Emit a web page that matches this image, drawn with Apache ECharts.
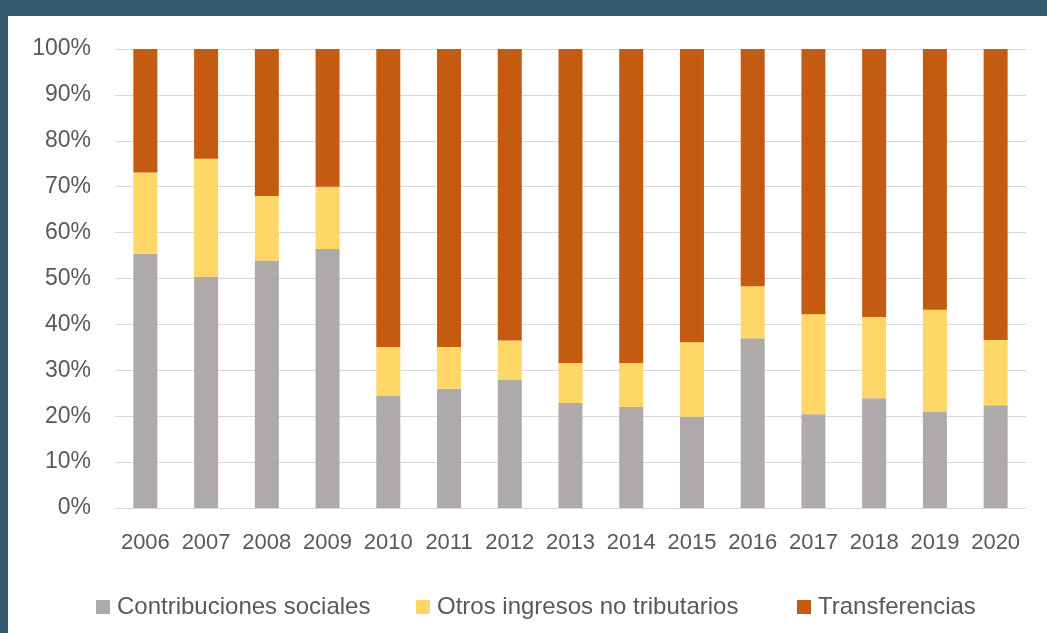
<!DOCTYPE html>
<html>
<head>
<meta charset="utf-8">
<script src="https://cdn.jsdelivr.net/npm/echarts@6/dist/echarts.min.js"></script>
<style>
  html, body { margin: 0; padding: 0; }
  body { width: 1047px; height: 633px; background: #35596d; position: relative; overflow: hidden; }
  #main { position: absolute; left: 8px; top: 16px; width: 1039px; height: 617px; background: #fff; }
</style>
</head>
<body>
<div id="main"></div>
<script>
// años
var years = ["2006", "2007", "2008", "2009", "2010", "2011", "2012", "2013",
             "2014", "2015", "2016", "2017", "2018", "2019", "2020"];
// participación (%) de cada fuente
var contribuciones = [55.4, 50.3, 53.9, 56.4, 24.5, 26.0, 27.9, 22.9, 22.0, 19.9, 37.0, 20.4, 23.9, 20.9, 22.4];
var otrosIngresos  = [17.7, 25.8, 14.1, 13.6, 10.6, 9.1, 8.6, 8.7, 9.6, 16.2, 11.3, 21.8, 17.7, 22.3, 14.2];
var transferencias = [26.9, 23.9, 32.0, 30.0, 64.9, 64.9, 63.5, 68.4, 68.4, 63.9, 51.7, 57.8, 58.4, 56.8, 63.4];
var seriesNames = ["Contribuciones sociales", "Otros ingresos no tributarios", "Transferencias"];

var textColor = "#595959";
var font = "Liberation Sans";

var chart = echarts.init(document.getElementById("main"));

function bar(name, data, color) {
    return {
        name: name,
        type: "bar",
        stack: "total",
        barWidth: 24,
        data: data,
        itemStyle: { color: color },
        emphasis: { disabled: true }
    };
}

// una leyenda por serie, para espaciarlas como en el original
var legendLeft = [83, 403, 784];
var legends = seriesNames.map(function (name, i) {
    return {
        left: legendLeft[i],
        top: 574,
        itemWidth: 14,
        itemHeight: 14,
        icon: "rect",
        selectedMode: false,
        textStyle: { color: textColor, fontSize: 24, fontFamily: font, padding: [0, 0, 0, 2] },
        data: [name]
    };
});

chart.setOption({
    animation: false,
    textStyle: { fontFamily: font },
    grid: { left: 107, right: 21, top: 33, bottom: 125 },
    legend: legends,
    xAxis: {
        type: "category",
        data: years,
        axisLine: { lineStyle: { color: "#d9d9d9", width: 1 } },
        axisTick: { show: false },
        axisLabel: { color: textColor, fontSize: 22, margin: 24, interval: 0 }
    },
    yAxis: {
        type: "value",
        min: 0,
        max: 100,
        interval: 10,
        axisLine: { show: false },
        axisTick: { show: false },
        splitLine: { lineStyle: { color: "#d9d9d9", width: 1 } },
        axisLabel: { color: textColor, fontSize: 23, margin: 24, formatter: "{value}%" }
    },
    series: [
        bar(seriesNames[0], contribuciones, "#adaaa9"),
        bar(seriesNames[1], otrosIngresos, "#ffd766"),
        bar(seriesNames[2], transferencias, "#c55a11")
    ]
});
</script>
</body>
</html>
